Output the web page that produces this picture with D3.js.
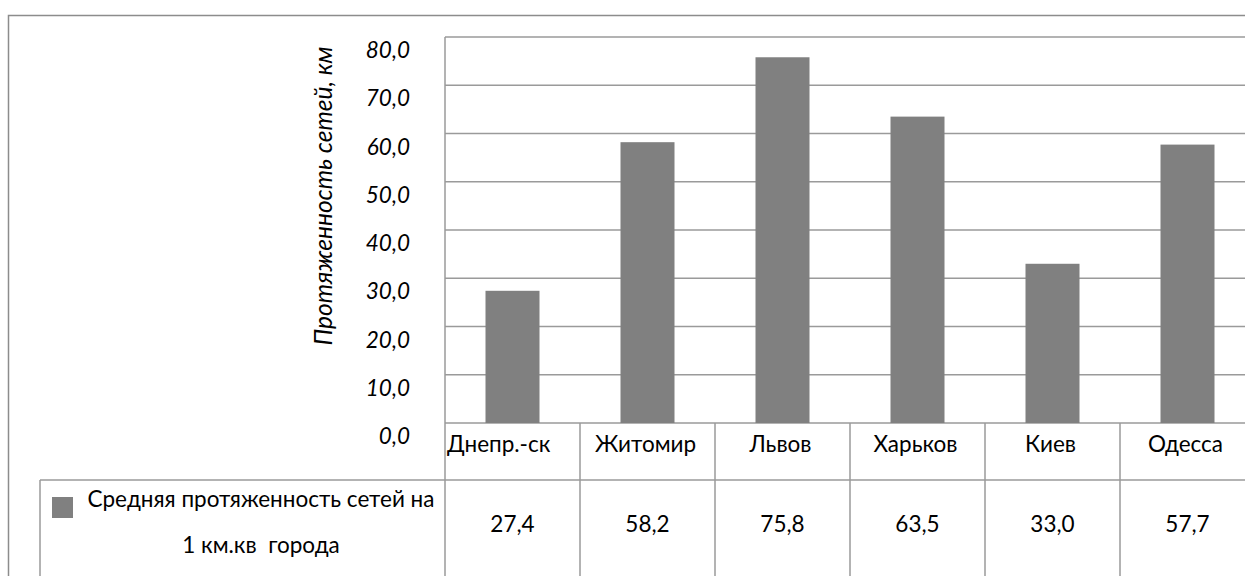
<!DOCTYPE html>
<html>
<head>
<meta charset="utf-8">
<script src="https://cdn.jsdelivr.net/npm/d3@7"></script>
<style>
  html, body { margin: 0; padding: 0; background: #fff; }
  svg { display: block; }
  text { font-family: Lato, "Open Sans", sans-serif; fill: #000; white-space: pre; }
</style>
</head>
<body>
<svg id="chart" width="1245" height="576"></svg>
<script>
// Cities and average network length per 1 sq. km of city area
const cities = ["Днепр.-ск", "Житомир", "Львов", "Харьков", "Киев", "Одесса"];
const lengths = [27.4, 58.2, 75.8, 63.5, 33.0, 57.7];
const yTicks = [0, 10, 20, 30, 40, 50, 60, 70, 80];
const seriesName = ["Средняя протяженность сетей на", "1 км.кв  города"];
const yTitle = "Протяженность сетей, км";

const W = 1245, H = 576;
const plot = { left: 445, right: 1255, top: 37, bottom: 423 };
const tableRow1 = 480;           // bottom of the category row
const legendLeft = 40;
const lineColor = "#9a9a9a";
const barColor = "#808080";
const fontSize = 22.5;

const svg = d3.select("#chart");
const fmt = v => d3.format(".1f")(v).replace(".", ",");

const x = d3.scaleBand()
  .domain(cities)
  .range([plot.left, plot.right])
  .paddingInner(0.6)
  .paddingOuter(0.3);

const y = d3.scaleLinear()
  .domain([0, 80])
  .range([plot.bottom, plot.top]);

// outer chart frame
svg.append("rect")
  .attr("x", 8.5).attr("y", 15.5)
  .attr("width", W + 20).attr("height", H + 20)
  .attr("fill", "none").attr("stroke", "#8c8c8c").attr("stroke-width", 1.5);

// horizontal gridlines
svg.append("g")
  .selectAll("line")
  .data(yTicks)
  .join("line")
  .attr("x1", plot.left).attr("x2", W)
  .attr("y1", d => y(d)).attr("y2", d => y(d))
  .attr("stroke", lineColor).attr("stroke-width", 1.5);

// y tick labels, set just below each gridline
svg.append("g")
  .selectAll("text")
  .data(yTicks)
  .join("text")
  .attr("x", 410)
  .attr("y", d => y(d) + 21)
  .attr("text-anchor", "end")
  .attr("font-style", "italic")
  .attr("font-size", fontSize)
  .text(fmt);

// y axis title
svg.append("text")
  .attr("transform", `translate(332, 196) rotate(-90)`)
  .attr("text-anchor", "middle")
  .attr("font-style", "italic")
  .attr("font-size", 24.5)
  .text(yTitle);

// bars
svg.append("g")
  .selectAll("rect")
  .data(cities.map((c, i) => ({ c, v: lengths[i] })))
  .join("rect")
  .attr("x", d => x(d.c))
  .attr("y", d => y(d.v))
  .attr("width", x.bandwidth())
  .attr("height", d => y(0) - y(d.v))
  .attr("fill", barColor);

// data table below the plot
const half = x.step() * x.paddingInner() / 2;
const cellLeft = c => x(c) - half;
const cellMid = c => x(c) + x.bandwidth() / 2;

const table = svg.append("g");
// row separator
table.append("line")
  .attr("x1", legendLeft).attr("x2", W)
  .attr("y1", tableRow1).attr("y2", tableRow1)
  .attr("stroke", lineColor).attr("stroke-width", 1.5);
// legend cell left edge
table.append("line")
  .attr("x1", legendLeft).attr("x2", legendLeft)
  .attr("y1", tableRow1).attr("y2", H)
  .attr("stroke", lineColor).attr("stroke-width", 1.5);
// column separators (the first one doubles as the value axis line)
table.selectAll("line.col")
  .data(cities)
  .join("line")
  .attr("class", "col")
  .attr("x1", c => cellLeft(c)).attr("x2", c => cellLeft(c))
  .attr("y1", (c, i) => i === 0 ? plot.top : plot.bottom)
  .attr("y2", H)
  .attr("stroke", lineColor).attr("stroke-width", 1.5);

// category labels
table.selectAll("text.cat")
  .data(cities)
  .join("text")
  .attr("class", "cat")
  .attr("x", (c, i) => i === 0 ? cellLeft(c) + 2 : cellMid(c) - 2)
  .attr("y", 452)
  .attr("text-anchor", (c, i) => i === 0 ? "start" : "middle")
  .attr("font-size", fontSize)
  .text(d => d);

// value labels
table.selectAll("text.val")
  .data(lengths)
  .join("text")
  .attr("class", "val")
  .attr("x", (d, i) => cellMid(cities[i]))
  .attr("y", 532)
  .attr("text-anchor", "middle")
  .attr("font-size", fontSize)
  .text(fmt);

// legend key and series name
table.append("rect")
  .attr("x", 52).attr("y", 497)
  .attr("width", 21).attr("height", 21)
  .attr("fill", barColor);
table.selectAll("text.leg")
  .data(seriesName)
  .join("text")
  .attr("class", "leg")
  .attr("x", 261)
  .attr("y", (d, i) => 507 + i * 46)
  .attr("text-anchor", "middle")
  .attr("font-size", fontSize)
  .text(d => d);
</script>
</body>
</html>
